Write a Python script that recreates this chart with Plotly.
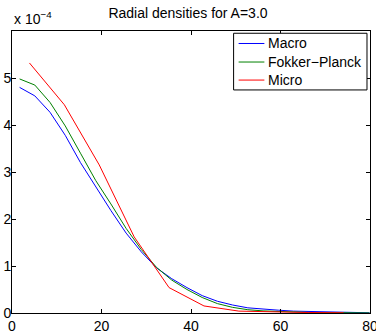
import plotly.graph_objects as go

# Values in units of 1e-4
x_macro = [1.7 + 3.4 * k for k in range(24)]
macro = [4.80, 4.62, 4.27, 3.78, 3.20, 2.68, 2.18, 1.70, 1.30, 0.96, 0.73, 0.54,
         0.37, 0.25, 0.17, 0.11, 0.08, 0.06, 0.04, 0.03, 0.02, 0.012, 0.008, 0.005]
x_fp = x_macro
fokker_planck = [4.98, 4.85, 4.48, 3.98, 3.40, 2.82, 2.32, 1.80, 1.35, 0.97, 0.70, 0.50,
                 0.33, 0.20, 0.12, 0.07, 0.045, 0.03, 0.02, 0.012, 0.008, 0.005, 0.003, 0.002]
x_micro = [3.9, 11.7, 19.5, 27.3, 35.1, 42.9, 50.7, 58.5, 66.3, 74.1]
micro = [5.32, 4.43, 3.15, 1.62, 0.54, 0.15, 0.04, 0.02, 0.01, 0.005]

series_names = ["Macro", "Fokker\u2212Planck", "Micro"]
series_colors = ["#0000FF", "#008000", "#FF0000"]

x_ticks = [0, 20, 40, 60, 80]
y_ticks = [0, 1, 2, 3, 4, 5]

FONT = "Liberation Sans, Arial, Helvetica, sans-serif"

fig = go.Figure()
for xs, ys, nm, col in zip([x_macro, x_fp, x_micro], [macro, fokker_planck, micro],
                           series_names, series_colors):
    fig.add_trace(go.Scatter(x=xs, y=ys, mode="lines", name=nm,
                             line=dict(color=col, width=1), showlegend=False))

axis_common = dict(showline=True, linecolor="black", linewidth=1, mirror="ticks",
                   ticks="inside", ticklen=4, tickcolor="black", showgrid=False,
                   zeroline=False, automargin=False, ticklabeloverflow="allow",
                   tickfont=dict(family=FONT, size=14, color="black"))

fig.update_layout(
    width=376, height=333,
    margin=dict(l=12, r=6, t=31, b=20),
    paper_bgcolor="white", plot_bgcolor="white",
    title=dict(text="Radial densities for A=3.0", x=0.5, xanchor="center",
               y=1 - 13 / 333, yanchor="middle",
               font=dict(family=FONT, size=14, color="black")),
    xaxis=dict(range=[0, 80], tickvals=x_ticks, ticklabelstandoff=0, **axis_common),
    yaxis=dict(range=[0, 6], tickvals=y_ticks, ticklabelstandoff=-3, **axis_common),
    showlegend=False,
)
fig.add_annotation(text="x 10<sup>\u22124</sup>", xref="paper", yref="paper",
                   x=0, y=1, xanchor="left", yanchor="bottom", yshift=2,
                   showarrow=False, font=dict(family=FONT, size=14, color="black"))

# Legend drawn manually (MATLAB-style compact box)
fig.add_shape(type="rect", xref="paper", yref="paper", x0=0.619, x1=0.9916,
              y0=0.791, y1=0.992, line=dict(color="black", width=1), fillcolor="white",
              layer="above")
row_y = [0.9557, 0.890, 0.826]
for ry, nm, col in zip(row_y, series_names, series_colors):
    fig.add_shape(type="line", xref="paper", yref="paper", x0=0.633, x1=0.705,
                  y0=ry, y1=ry, line=dict(color=col, width=1), layer="above")
    fig.add_annotation(text=nm, xref="paper", yref="paper", x=0.709, y=ry,
                       xanchor="left", yanchor="middle", showarrow=False,
                       font=dict(family=FONT, size=14, color="black"))

fig.write_html("out.html")
